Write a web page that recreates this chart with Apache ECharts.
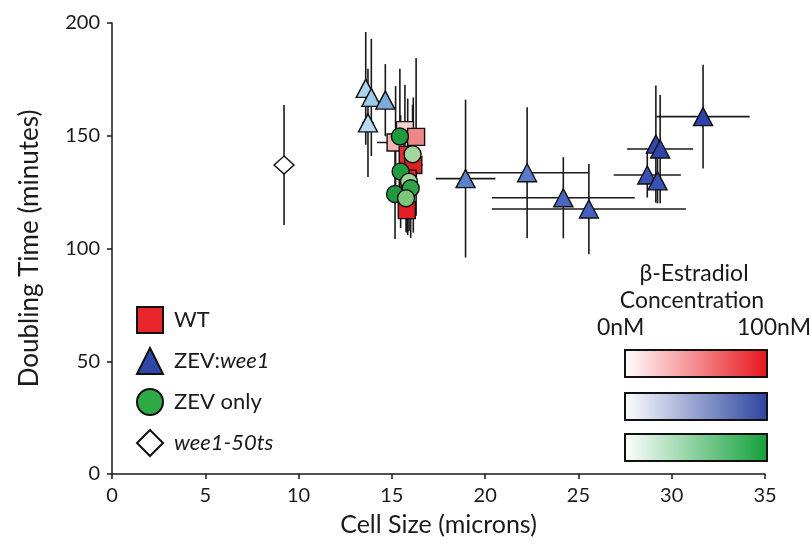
<!DOCTYPE html>
<html>
<head>
<meta charset="utf-8">
<script src="https://cdn.jsdelivr.net/npm/echarts@6/dist/echarts.min.js"></script>
<style>
  html, body { margin: 0; padding: 0; background: #fff; }
  #chart { width: 811px; height: 548px; }
</style>
</head>
<body>
<div id="chart"></div>
<script>
// WT (red squares)
const wtX = [15.7, 15.2, 16.3, 15.85, 16.15, 15.85, 15.8];
const wtY = [152.5, 147, 149.5, 141.5, 137, 131, 117];
const wtXErr = [0, 1.0, 0, 0, 0.5, 0, 0];
const wtYErr = [20, 25, 35, 25, 30, 25, 10];

// ZEV only (green circles)
const zevX = [15.43, 16.11, 15.47, 15.92, 15.17, 16.01, 15.76];
const zevY = [149.7, 141.8, 134.1, 129.6, 124.2, 126.7, 122.3];
const zevXErr = [0, 0, 0, 0, 0, 0, 0];
const zevYErr = [30, 22, 25, 22, 20, 22, 15];

// ZEV:wee1 (triangles)
const weeX = [13.6, 13.9, 14.65, 13.72, 18.95, 22.25, 24.19, 25.56, 28.69, 29.24, 29.15, 29.38, 31.68];
const weeY = [171, 167, 165.8, 155.7, 131, 133.6, 122.5, 117.5, 132.6, 130, 146.3, 144.1, 158.5];
const weeXErr = [0, 0, 0, 0.3, 1.6, 3.3, 3.83, 5.2, 1.8, 0, 0, 1.77, 2.5];
const weeYErr = [25, 26, 16, 24, 35, 29, 18, 20, 10, 10, 26, 24, 23];

// wee1-50ts (open diamond)
const tsX = [9.22];
const tsY = [137];
const tsXErr = [0];
const tsYErr = [26.6];

const legendNames = ["WT", "ZEV:wee1", "ZEV only", "wee1-50ts"];
const xTicks = { min: 0, max: 35, step: 5 };
const yTicks = { min: 0, max: 200, step: 50 };

// marker shades (low -> high estradiol)
const wtColors = ["#f8d0d0", "#f3b4b4", "#ef8686", "#e22a2f", "#df1f26", "#e0262c", "#e31e24"];
const zevColors = ["#1c9a3c", "#a3d69d", "#219c40", "#9fd49a", "#1f9a3f", "#2fa548", "#7cc679"];
const weeColors = ["#aad4f0", "#9ccbec", "#7eabd9", "#b5dcf3", "#5b80cc", "#5a7bcb", "#4a65bf",
  "#4660bd", "#3a50b3", "#3a52b6", "#3249ad", "#2f45aa", "#2d41a6"];

const FONT = "Lato";
const INK = "#1a1a1a";

function points(xs, ys, colors) {
  return xs.map((x, i) => ({ value: [x, ys[i]], itemStyle: { color: colors[i] } }));
}

function errRows(xs, ys, xe, ye) {
  return xs.map((x, i) => [x, ys[i], xe[i], ye[i]]);
}

const errData = [
  ...errRows(tsX, tsY, tsXErr, tsYErr),
  ...errRows(wtX, wtY, wtXErr, wtYErr),
  ...errRows(zevX, zevY, zevXErr, zevYErr),
  ...errRows(weeX, weeY, weeXErr, weeYErr),
];

function renderErr(params, api) {
  const x = api.value(0), y = api.value(1), xe = api.value(2), ye = api.value(3);
  const style = { stroke: INK, lineWidth: 1.6 };
  const children = [];
  if (ye > 0) {
    const a = api.coord([x, y + ye]), b = api.coord([x, y - ye]);
    children.push({ type: "line", shape: { x1: a[0], y1: a[1], x2: b[0], y2: b[1] }, style });
  }
  if (xe > 0) {
    const a = api.coord([x - xe, y]), b = api.coord([x + xe, y]);
    children.push({ type: "line", shape: { x1: a[0], y1: a[1], x2: b[0], y2: b[1] }, style });
  }
  return { type: "group", children };
}

const markerStyle = { borderColor: "#111", borderWidth: 1.4, opacity: 1 };

function gradBar(top, endColor) {
  return {
    type: "rect",
    left: 624, top,
    shape: { width: 142, height: 27 },
    style: {
      fill: {
        type: "linear", x: 0, y: 0, x2: 1, y2: 0,
        colorStops: [{ offset: 0, color: "#ffffff" }, { offset: 1, color: endColor }],
      },
      stroke: "#111", lineWidth: 2,
    },
  };
}

function label(text, opts) {
  return {
    type: "text",
    ...opts,
    style: { text, fill: INK, font: `23px ${FONT}`, ...(opts.style || {}) },
  };
}

const chart = echarts.init(document.getElementById("chart"));
chart.setOption({
  animation: false,
  grid: { left: 112, right: 46, top: 23, bottom: 74 },
  xAxis: {
    type: "value", min: xTicks.min, max: xTicks.max, interval: xTicks.step,
    axisLine: { show: true, lineStyle: { color: INK, width: 1.5 } },
    axisTick: { show: true, length: 5, lineStyle: { color: INK, width: 1.5 } },
    splitLine: { show: false },
    axisLabel: { fontFamily: FONT, fontSize: 20, color: INK, margin: 12 },
    name: "Cell Size (microns)", nameLocation: "middle", nameGap: 38,
    nameTextStyle: { fontFamily: FONT, fontSize: 25, color: INK },
  },
  yAxis: {
    type: "value", min: yTicks.min, max: yTicks.max, interval: yTicks.step,
    axisLine: { show: true, lineStyle: { color: INK, width: 1.5 } },
    axisTick: { show: true, length: 5, lineStyle: { color: INK, width: 1.5 } },
    splitLine: { show: false },
    axisLabel: { fontFamily: FONT, fontSize: 20, color: INK, margin: 12 },
    name: "Doubling Time (minutes)", nameLocation: "middle", nameGap: 69,
    nameTextStyle: { fontFamily: FONT, fontSize: 26, color: INK },
  },
  legend: {
    orient: "vertical", left: 131, top: 301,
    itemWidth: 26, itemHeight: 26, itemGap: 13,
    selectedMode: false,
    data: legendNames,
    formatter: (name) => {
      if (name === "ZEV:wee1") return "ZEV:{i|wee1}";
      if (name === "wee1-50ts") return "{i|wee1-50ts}";
      return name;
    },
    textStyle: {
      fontFamily: FONT, fontSize: 22, color: INK, lineHeight: 26, padding: [0, 0, 0, 6],
      rich: { i: { fontFamily: FONT, fontSize: 22, fontStyle: "italic", color: INK, lineHeight: 26 } },
    },
  },
  series: [
    {
      type: "custom", name: "err", renderItem: renderErr, data: errData,
      encode: { x: 0, y: 1 }, z: 1, silent: true,
    },
    {
      type: "scatter", name: "wee1-50ts", symbol: "diamond", symbolSize: [20, 18], z: 2,
      itemStyle: { color: "#ffffff", ...markerStyle },
      data: points(tsX, tsY, ["#ffffff"]),
    },
    {
      type: "scatter", name: "WT", symbol: "rect", symbolSize: 17, z: 2,
      itemStyle: { color: "#e8262b", ...markerStyle },
      data: points(wtX, wtY, wtColors),
    },
    {
      type: "scatter", name: "ZEV only", symbol: "circle", symbolSize: 17, z: 3,
      itemStyle: { color: "#2eaa44", ...markerStyle },
      data: points(zevX, zevY, zevColors),
    },
    {
      type: "scatter", name: "ZEV:wee1", symbol: "triangle", symbolSize: [19, 18], z: 4,
      itemStyle: { color: "#2e47a6", ...markerStyle },
      data: points(weeX, weeY, weeColors),
    },
  ],
  graphic: [
    label("β-Estradiol", { x: 694, y: 274, style: { textAlign: "center", textVerticalAlign: "middle" } }),
    label("Concentration", { x: 692, y: 301, style: { textAlign: "center", textVerticalAlign: "middle" } }),
    label("0nM", { x: 597, y: 328, style: { textAlign: "left", textVerticalAlign: "middle" } }),
    label("100nM", { x: 737, y: 328, style: { textAlign: "left", textVerticalAlign: "middle" } }),
    gradBar(349, "#e8151c"),
    gradBar(392, "#2b44a0"),
    gradBar(433, "#12a039"),
  ],
});
</script>
</body>
</html>
